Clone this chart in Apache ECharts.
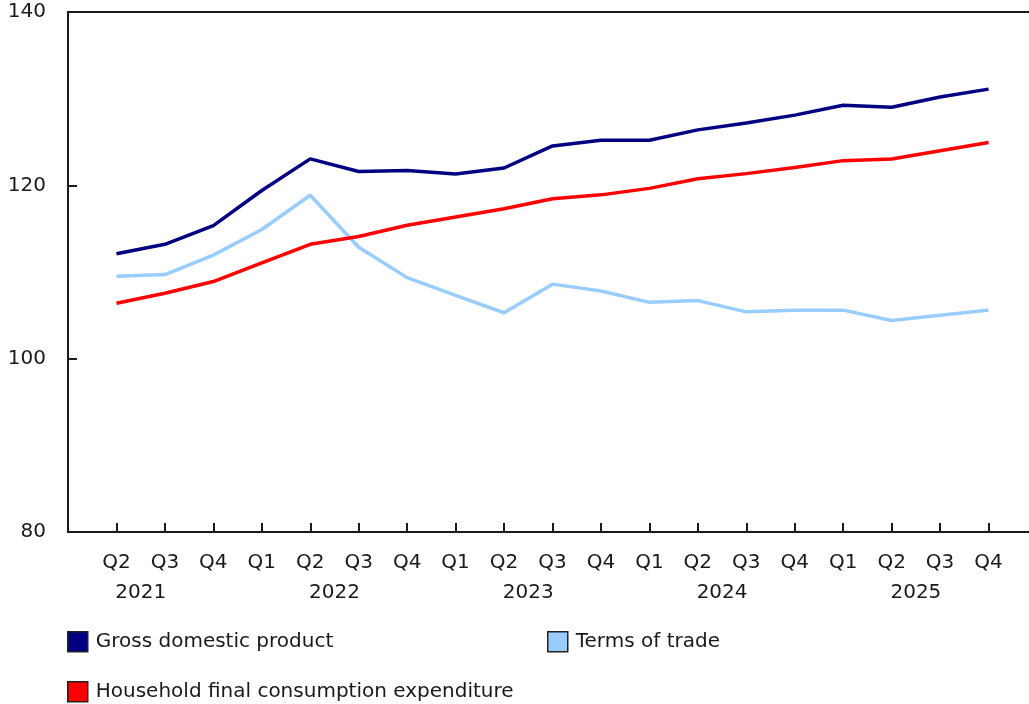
<!DOCTYPE html>
<html>
<head>
<meta charset="utf-8">
<script src="https://cdn.jsdelivr.net/npm/echarts@6/dist/echarts.min.js"></script>
<style>
  html, body { margin: 0; padding: 0; background: #fff; }
  #chart { width: 1029px; height: 704px; }
</style>
</head>
<body>
<div id="chart"></div>
<script>
// quarters from Q2 2021 to Q4 2025
var quarters = ['Q2', 'Q3', 'Q4', 'Q1', 'Q2', 'Q3', 'Q4', 'Q1', 'Q2', 'Q3', 'Q4',
                'Q1', 'Q2', 'Q3', 'Q4', 'Q1', 'Q2', 'Q3', 'Q4'];
var years = ['2021', '2022', '2023', '2024', '2025'];
var yTicks = [80, 100, 120, 140];

var gdp = [112.1, 113.2, 115.35, 119.4, 123.05, 121.6, 121.7, 121.3, 122.0, 124.55,
           125.2, 125.2, 126.4, 127.2, 128.1, 129.25, 129.0, 130.2, 131.1];
var termsOfTrade = [109.5, 109.7, 111.95, 114.9, 118.85, 112.85, 109.35, 107.3, 105.3, 108.6,
                    107.8, 106.5, 106.7, 105.4, 105.6, 105.6, 104.4, 105.0, 105.6];
var hfce = [106.4, 107.55, 108.9, 111.05, 113.2, 114.1, 115.4, 116.35, 117.3, 118.45,
            118.9, 119.65, 120.75, 121.35, 122.05, 122.85, 123.05, 124.0, 124.95];

var NAMES = ['Gross domestic product', 'Terms of trade', 'Household final consumption expenditure'];
var FONT = 'DejaVu Sans';
var FS = 20;
var INK = '#1a1a1a';

// blank slot before Q2 2021 (empty Q1) and after Q4 2025 so the axis runs past the edges
var cats = [''].concat(quarters, ['']);
function pad(arr) { return [null].concat(arr, [null]); }

// year label sits in the middle of its four quarter slots
var yearPos = {};
years.forEach(function (y, i) { yearPos[(1.5 + i * 4).toFixed(1)] = y; });

var chart = echarts.init(document.getElementById('chart'));

function line(name, data, color) {
  return {
    name: name,
    type: 'line',
    data: pad(data),
    showSymbol: false,
    symbol: 'none',
    animation: false,
    lineStyle: { width: 3.5, color: color },
    itemStyle: { color: color }
  };
}

function legendAt(name, left, top) {
  return {
    data: [name],
    left: left,
    top: top,
    padding: 0,
    icon: 'rect',
    itemWidth: 20,
    itemHeight: 20,
    itemStyle: { borderColor: '#222', borderWidth: 1.5 },
    selectedMode: false,
    textStyle: { fontFamily: FONT, fontSize: FS, color: INK, padding: [0, 0, 0, 3] }
  };
}

chart.setOption({
  backgroundColor: '#fff',
  animation: false,
  grid: { left: 68, width: 969, top: 12, bottom: 172, containLabel: false, outerBoundsMode: 'none' },
  legend: [
    legendAt(NAMES[0], 67, 631),
    legendAt(NAMES[1], 547, 631),
    legendAt(NAMES[2], 67, 681)
  ],
  xAxis: [
    {
      type: 'category',
      data: cats,
      boundaryGap: false,
      position: 'bottom',
      axisLine: { lineStyle: { color: INK, width: 2 } },
      axisTick: { inside: true, length: 9, interval: 0, lineStyle: { color: INK, width: 2 } },
      axisLabel: { interval: 0, margin: 21, fontFamily: FONT, fontSize: FS, color: INK },
      splitLine: { show: false }
    },
    {
      type: 'value',
      min: 0,
      max: cats.length - 1,
      interval: 0.5,
      position: 'bottom',
      axisLine: { show: false },
      axisTick: { show: false },
      splitLine: { show: false },
      axisLabel: {
        margin: 51,
        fontFamily: FONT, fontSize: FS, color: INK,
        formatter: function (v) { return yearPos[v.toFixed(1)] || ''; }
      }
    },
    {
      type: 'category',
      data: cats,
      boundaryGap: false,
      position: 'top',
      axisLine: { lineStyle: { color: INK, width: 2 } },
      axisTick: { show: false },
      axisLabel: { show: false },
      splitLine: { show: false }
    }
  ],
  yAxis: {
    type: 'value',
    min: yTicks[0],
    max: yTicks[yTicks.length - 1],
    interval: 20,
    axisLine: { show: true, lineStyle: { color: INK, width: 2 } },
    axisTick: { show: true, inside: true, length: 9, lineStyle: { color: INK, width: 2 } },
    axisLabel: { margin: 22, fontFamily: FONT, fontSize: FS, color: INK },
    splitLine: { show: false }
  },
  series: [
    line(NAMES[0], gdp, '#000080'),
    line(NAMES[1], termsOfTrade, '#99ccff'),
    line(NAMES[2], hfce, '#ff0000')
  ]
});
</script>
</body>
</html>
